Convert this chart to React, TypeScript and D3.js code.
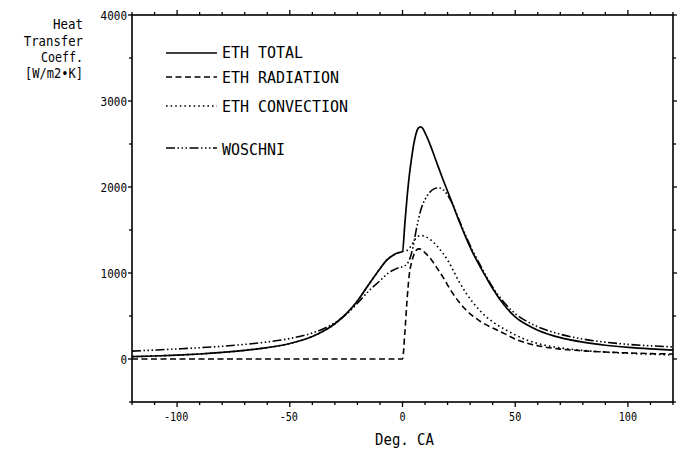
import React from 'react';
import * as d3 from 'd3';

// Crank angle (deg) sample positions shared by all series
const crankAngles = [
  -120, -110, -100, -90, -80, -70, -60, -50, -40, -35, -30, -25, -20, -15, -10, -7, -4, -2, 0,
  1, 2, 3, 4, 5, 6, 7, 8, 9, 10,
  12, 14, 16, 18, 20, 22,
  25, 28, 31, 34, 37, 40,
  45, 50, 55, 60,
  70, 80, 90, 100, 110, 120,
];

const ethTotal = [
  28, 35, 45, 58, 76, 100, 132, 180, 262, 325, 410, 525, 675, 865, 1050, 1150, 1210, 1235, 1250,
  1560, 1870, 2130, 2330, 2500, 2620, 2685, 2700, 2680, 2630,
  2510, 2370, 2225, 2085, 1950, 1815,
  1610, 1420, 1245, 1095, 955, 820,
  630, 490, 400, 335,
  248, 196, 160, 135, 117, 103,
];

const ethRadiation = [
  0, 0, 0, 0, 0, 0, 0, 0, 0, 0, 0, 0, 0, 0, 0, 0, 0, 0, 0,
  290, 680, 980, 1120, 1210, 1260, 1280, 1278, 1260, 1235,
  1180, 1110, 1030, 950, 860, 775,
  665, 575, 505, 447, 400, 360,
  298, 232, 186, 155,
  115, 95, 81, 71, 63, 58,
];

const ethConvection = [
  28, 35, 45, 58, 76, 100, 132, 180, 262, 325, 410, 525, 675, 865, 1050, 1150, 1210, 1235, 1250,
  1255, 1262, 1285, 1325, 1370, 1405, 1428, 1436, 1434, 1425,
  1395, 1350, 1292, 1228, 1150, 1055,
  905, 775, 665, 572, 495, 432,
  350, 280, 222, 180,
  130, 100, 80, 66, 56, 48,
];

const woschni = [
  92, 104, 117, 131, 148, 170, 198, 238, 302, 352, 422, 518, 648, 790, 910, 985, 1035, 1058, 1072,
  1085, 1105, 1150, 1230, 1345, 1490, 1615, 1720, 1800, 1855,
  1935, 1978, 1990, 1970, 1905, 1815,
  1625, 1435, 1265, 1115, 970, 835,
  660, 528, 440, 375,
  288, 232, 196, 170, 153, 141,
];

const yMajorTicks = [0, 1000, 2000, 3000, 4000];
const xMajorTicks = [-100, -50, 0, 50, 100];
const yTitleLines = ['Heat', 'Transfer', 'Coeff.', '[W/m2•K]'];
const legendLabels = ['ETH TOTAL', 'ETH RADIATION', 'ETH CONVECTION', 'WOSCHNI'];
const xTitle = 'Deg. CA';

const FONT = '"DejaVu Sans Mono", "Liberation Mono", monospace';

export default function App() {
  const W = 686;
  const H = 453;
  const left = 132;
  const right = 673;
  const top = 15;
  const bottom = 402;

  const x = d3.scaleLinear().domain([-120, 120]).range([left, right]);
  const y = d3.scaleLinear().domain([-500, 4000]).range([bottom, top]);

  const mk = (vals: number[]) =>
    d3
      .line<number>()
      .x((_, i) => x(crankAngles[i]))
      .y((v) => y(v))
      .curve(d3.curveMonotoneX)(vals) || '';

  const styles = [
    { dash: undefined as string | undefined, w: 1.7 },
    { dash: '6,3.5', w: 1.6 },
    { dash: '1.6,3', w: 1.6 },
    { dash: '9,2.5,1.5,2.5,1.5,2.5,1.5,2.5', w: 1.6 },
  ];
  const seriesVals = [ethTotal, ethRadiation, ethConvection, woschni];

  const xMinor = d3.range(-120, 121, 10);
  const yMinor = d3.range(-500, 4001, 500);

  const legendY = [53, 77, 106, 148];
  const legendBase = [58, 82.5, 111.5, 154.5];
  const legendCharW = 9;

  const yTitleBase = [29, 45.5, 62, 78];
  const yTitleCharW = [7.5, 7.4, 7, 7.25];

  const tickCharW = 6.6;

  return (
    <svg
      width={W}
      height={H}
      style={{ position: 'absolute', left: 0, top: 0, background: '#fff' }}
      fontFamily={FONT}
    >
      <rect x={0} y={0} width={W} height={H} fill="#fff" />

      {/* frame */}
      <rect x={left} y={top} width={right - left} height={bottom - top} fill="none" stroke="#000" strokeWidth={1.6} />

      {/* x ticks bottom & top */}
      {xMinor.map((t) => {
        const major = xMajorTicks.includes(t);
        const len = major ? 5 : 3;
        return (
          <g key={'xt' + t}>
            <line x1={x(t)} x2={x(t)} y1={bottom} y2={bottom + len} stroke="#000" strokeWidth={1.3} />
            <line x1={x(t)} x2={x(t)} y1={top} y2={top - len} stroke="#000" strokeWidth={1.3} />
          </g>
        );
      })}
      {/* y ticks left & right */}
      {yMinor.map((t) => {
        const major = yMajorTicks.includes(t);
        const len = major ? 4 : 3;
        return (
          <g key={'yt' + t}>
            <line x1={left} x2={left - len} y1={y(t)} y2={y(t)} stroke="#000" strokeWidth={1.3} />
            <line x1={right} x2={right + len} y1={y(t)} y2={y(t)} stroke="#000" strokeWidth={1.3} />
          </g>
        );
      })}

      {/* y tick labels */}
      {yMajorTicks.map((t) => {
        const s = String(t);
        return (
          <text
            key={'yl' + t}
            x={127}
            y={y(t) + 4.5}
            textAnchor="end"
            fontSize={12}
            textLength={s.length * tickCharW}
            lengthAdjust="spacingAndGlyphs"
          >
            {s}
          </text>
        );
      })}

      {/* x tick labels */}
      {xMajorTicks.map((t) => {
        const s = String(t);
        return (
          <text
            key={'xl' + t}
            x={x(t) + (t < 0 ? -1 : 0)}
            y={421}
            textAnchor="middle"
            fontSize={12}
            textLength={s.length * 6.1}
            lengthAdjust="spacingAndGlyphs"
          >
            {s}
          </text>
        );
      })}

      {/* axis titles */}
      <text x={404.5} y={445} textAnchor="middle" fontSize={16} textLength={xTitle.length * 8.4} lengthAdjust="spacingAndGlyphs">
        {xTitle}
      </text>
      {yTitleLines.map((s, i) => (
        <text
          key={'yti' + i}
          x={83}
          y={yTitleBase[i]}
          textAnchor="end"
          fontSize={13.5}
          textLength={s.length * yTitleCharW[i]}
          lengthAdjust="spacingAndGlyphs"
        >
          {s}
        </text>
      ))}

      {/* series */}
      <g clipPath="url(#plotclip)">
        {seriesVals.map((vals, i) => (
          <path
            key={'s' + i}
            d={mk(vals)}
            fill="none"
            stroke="#000"
            strokeWidth={styles[i].w}
            strokeDasharray={styles[i].dash}
          />
        ))}
      </g>
      <defs>
        <clipPath id="plotclip">
          <rect x={left} y={top} width={right - left} height={bottom - top} />
        </clipPath>
      </defs>

      {/* legend */}
      {legendLabels.map((s, i) => (
        <g key={'lg' + i}>
          <line
            x1={166}
            x2={217}
            y1={legendY[i]}
            y2={legendY[i]}
            stroke="#000"
            strokeWidth={styles[i].w}
            strokeDasharray={styles[i].dash}
          />
          <text
            x={222}
            y={legendBase[i]}
            fontSize={16}
            textLength={s.length * legendCharW}
            lengthAdjust="spacingAndGlyphs"
          >
            {s}
          </text>
        </g>
      ))}
    </svg>
  );
}
